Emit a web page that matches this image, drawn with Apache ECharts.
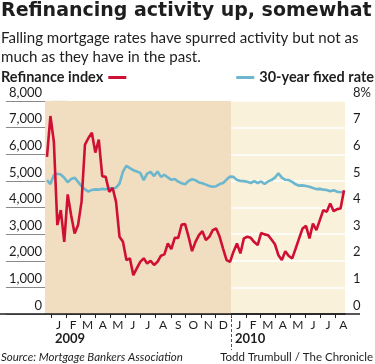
<!DOCTYPE html>
<html><head><meta charset="utf-8">
<script src="https://cdn.jsdelivr.net/npm/echarts@6/dist/echarts.min.js"></script>
<style>html,body{margin:0;padding:0;background:#fff}#c{width:375px;height:364px}</style>
</head><body><div id="c"></div>
<script>
// Weekly MBA refinance index (late Dec 2008 – Aug 2010)
const refinanceIndex = [5900,7435,6460,3340,3900,2710,4490,3710,3025,3340,
  4210,6360,6610,6810,6060,6550,5175,5150,4590,4740,
  4210,2900,2710,2025,2090,1460,1710,1960,2090,1900,
  2000,1840,1960,2190,2240,2650,2440,2860,2860,3360,
  3375,2900,2360,2710,2960,3110,2775,2900,3150,3210,
  2900,2450,2025,1960,2340,2650,2275,2840,2900,2860,
  2700,2590,3040,2990,2960,2800,2620,2210,2025,2360,
  2180,2090,2460,2840,3210,3310,2840,3400,3150,3525,
  3900,3840,4150,3860,3940,3960,4650];
// Weekly 30-year fixed mortgage rate, %
const fixedRate = [5.03,4.88,5.22,5.27,5.24,5.12,4.95,5.07,5.12,4.96,
  4.80,4.68,4.60,4.66,4.68,4.67,4.70,4.68,4.73,4.70,
  4.75,4.90,5.35,5.57,5.48,5.40,5.35,5.30,5.03,5.27,
  5.34,5.18,5.35,5.15,5.23,5.13,5.04,5.07,4.97,4.91,
  4.87,5.00,5.06,5.02,4.94,4.91,4.86,4.81,4.78,4.80,
  4.88,4.92,5.05,5.16,5.15,5.03,5.00,4.99,4.97,4.92,
  4.99,4.92,4.98,4.88,4.98,5.03,5.12,5.28,5.12,5.04,
  5.03,4.96,4.87,4.82,4.83,4.81,4.78,4.73,4.69,4.70,
  4.67,4.66,4.61,4.65,4.59,4.57,4.58];
const firstWeekDay = -8;          // days from 1 Jan 2009 of the first reading
const weekStep = 7;
const monthStarts = [0,31,59,90,120,151,181,212,243,273,304,334,365,396,424,455,485,516,546,577,608];
const monthLetters = ['J','F','M','A','M','J','J','A','S','O','N','D','J','F','M','A','M','J','J','A'];
const years = ['2009','2010'];
const yearStarts = [0,365];
const leftTicks = [0,1000,2000,3000,4000,5000,6000,7000,8000];
const rightTicks = [0,1,2,3,4,5,6,7,8];

const weekDays = refinanceIndex.map((_, i) => firstWeekDay + weekStep * i);
const monthMids = monthLetters.map((_, i) => (monthStarts[i] + monthStarts[i + 1]) / 2);
const red = '#CF1034', blue = '#6CB7CD', ink = '#1e1e1e';
const FONT = 'Lato';

const chart = echarts.init(document.getElementById('c'), null, {renderer: 'canvas'});
chart.setOption({
  animation: false,
  backgroundColor: '#fff',
  textStyle: {fontFamily: FONT, color: ink},
  title: [
    {text: 'Refinancing activity up, somewhat', left: 1, top: 2, padding: 0,
     textStyle: {fontFamily: 'DejaVu Sans', fontWeight: 'bold', fontSize: 19, color: ink}},
    {text: 'Falling mortgage rates have spurred activity but not as\nmuch as they have in the past.', left: 1, top: 28, padding: 0,
     textStyle: {fontFamily: FONT, fontWeight: 'normal', fontSize: 15.1, lineHeight: 19.5, color: ink}},
    {text: 'Source: Mortgage Bankers Association', left: 1, top: 351, padding: 0,
     textStyle: {fontFamily: FONT, fontStyle: 'italic', fontWeight: 'normal', fontSize: 11.5, color: ink}},
    {text: 'Todd Trumbull / The Chronicle', right: 2, top: 351, padding: 0,
     textStyle: {fontFamily: FONT, fontWeight: 'normal', fontSize: 11.5, color: ink}}
  ],
  legend: [
    {data: ['Refinance index'], left: 1, top: 70, padding: 0, align: 'right', icon: 'rect', itemWidth: 18, itemHeight: 3,
     textStyle: {fontFamily: FONT, fontWeight: 'bold', fontSize: 14.5, color: ink}},
    {data: ['30-year fixed rate'], right: 1, top: 70, padding: 0, align: 'left', icon: 'rect', itemWidth: 18, itemHeight: 3,
     textStyle: {fontFamily: FONT, fontWeight: 'bold', fontSize: 14.5, color: ink}}
  ],
  grid: {left: 45, right: 30, top: 101, bottom: 50, show: true, backgroundColor: '#FAF1DA', borderWidth: 0},
  xAxis: [
    {type: 'value', min: -12, max: 596, position: 'bottom',
     axisLine: {show: true, onZero: false, lineStyle: {color: ink, width: 1.5}},
     axisTick: {show: true, customValues: monthStarts, length: 4, lineStyle: {color: ink, width: 1}},
     axisLabel: {show: true, customValues: monthMids, margin: 5, fontSize: 12, color: ink, fontFamily: FONT,
       formatter: v => { const i = monthMids.indexOf(v); return i >= 0 ? monthLetters[i] : ''; }},
     splitLine: {show: false}},
    {type: 'value', min: -12, max: 596, position: 'bottom',
     axisLine: {show: false},
     axisTick: {show: true, customValues: [yearStarts[1]], length: 36, lineStyle: {color: '#555', width: 1, type: [3, 2]}},
     axisLabel: {show: true, customValues: yearStarts, margin: 18, align: 'left', padding: [0, 0, 0, 4],
       fontSize: 13, fontWeight: 'bold', color: ink, fontFamily: FONT,
       formatter: v => years[yearStarts.indexOf(v)] || ''},
     splitLine: {show: false}}
  ],
  yAxis: [
    {type: 'value', min: 0, max: 8000, interval: 1000, position: 'left',
     axisLine: {show: false},
     axisTick: {show: true, length: 45, lineStyle: {color: '#8a8a8a', width: 1.2}},
     axisLabel: {margin: 3, fontSize: 13, color: ink, fontFamily: FONT, verticalAlign: 'bottom', padding: [0, 0, 2, 0],
       showMinLabel: true, showMaxLabel: true,
       formatter: v => v.toLocaleString('en-US')},
     splitLine: {show: true, lineStyle: {color: '#ffffff', width: 1.5}}},
    {type: 'value', min: 0, max: 8, interval: 1, position: 'right',
     axisLine: {show: false},
     axisTick: {show: true, length: 16, lineStyle: {color: '#8a8a8a', width: 1.2}},
     axisLabel: {margin: 8, fontSize: 13, color: ink, fontFamily: FONT, verticalAlign: 'bottom', padding: [0, 0, 2, 0],
       align: 'left', showMinLabel: true, showMaxLabel: true,
       formatter: v => v === 8 ? '8%' : String(v)},
     splitLine: {show: false}}
  ],
  series: [
    {type: 'line', name: 'shade', data: [], z: -1, silent: true,
     markArea: {silent: true, itemStyle: {color: '#F1DEC0'},
       data: [[{xAxis: -12}, {xAxis: yearStarts[1]}]]}},
    {type: 'line', name: '30-year fixed rate', yAxisIndex: 1, xAxisIndex: 0,
     data: fixedRate.map((v, i) => [weekDays[i], v]),
     showSymbol: false, color: blue, lineStyle: {color: blue, width: 2.6}, z: 3},
    {type: 'line', name: 'Refinance index', yAxisIndex: 0, xAxisIndex: 0,
     data: refinanceIndex.map((v, i) => [weekDays[i], v]),
     showSymbol: false, color: red, lineStyle: {color: red, width: 2.6}, z: 4}
  ],
  graphic: [
    {type: 'line', z: 100, shape: {x1: 0, y1: 314, x2: 360, y2: 314}, style: {stroke: ink, lineWidth: 1.5}}
  ]
});
</script></body></html>
